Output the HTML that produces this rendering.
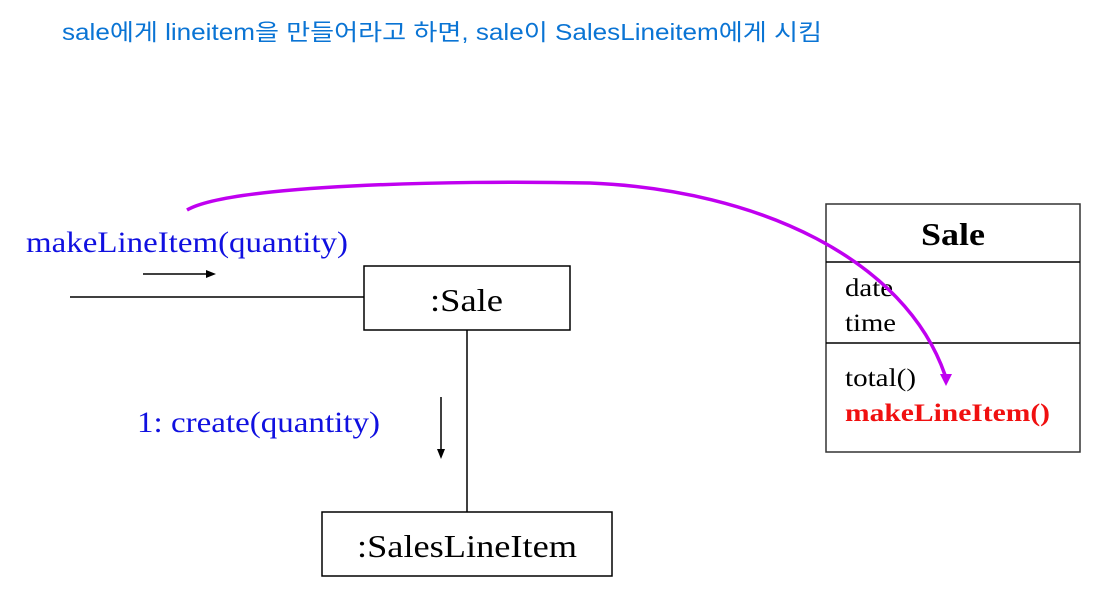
<!DOCTYPE html>
<html><head><meta charset="utf-8"><style>
html,body{margin:0;padding:0;background:#fff;}
</style></head><body>
<svg width="1098" height="591" xmlns="http://www.w3.org/2000/svg">
<text x="62" y="40" font-family="Liberation Sans, Noto Sans CJK KR, sans-serif" font-size="23" fill="#0a74d4" textLength="760" lengthAdjust="spacingAndGlyphs">sale에게 lineitem을 만들어라고 하면, sale이 SalesLineitem에게 시킴</text>
<g font-family="Liberation Serif, serif">
<text x="26" y="252" font-size="30" fill="#1010e0" textLength="322" lengthAdjust="spacingAndGlyphs">makeLineItem(quantity)</text>
<line x1="143" y1="274" x2="208" y2="274" stroke="#000" stroke-width="1.5"/>
<polygon points="216,274 206,270 206,278" fill="#000"/>
<line x1="70" y1="297" x2="364" y2="297" stroke="#000" stroke-width="1.5"/>
<rect x="364" y="266" width="206" height="64" fill="#fff" stroke="#000" stroke-width="1.5"/>
<text x="430" y="311" font-size="32" textLength="73" lengthAdjust="spacingAndGlyphs">:Sale</text>
<line x1="467" y1="330" x2="467" y2="512" stroke="#000" stroke-width="1.5"/>
<text x="137" y="432" font-size="30" fill="#1010e0" textLength="243" lengthAdjust="spacingAndGlyphs">1: create(quantity)</text>
<line x1="441" y1="397" x2="441" y2="450" stroke="#000" stroke-width="1.5"/>
<polygon points="441,459 437,449 445,449" fill="#000"/>
<rect x="322" y="512" width="290" height="64" fill="#fff" stroke="#000" stroke-width="1.5"/>
<text x="357" y="557" font-size="32" textLength="220" lengthAdjust="spacingAndGlyphs">:SalesLineItem</text>
<rect x="826" y="204" width="254" height="248" fill="#fff" stroke="#333" stroke-width="1.5"/>
<line x1="826" y1="262" x2="1080" y2="262" stroke="#000" stroke-width="1.5"/>
<line x1="826" y1="343" x2="1080" y2="343" stroke="#000" stroke-width="1.5"/>
<text x="921" y="245" font-size="32" font-weight="bold" textLength="64" lengthAdjust="spacingAndGlyphs">Sale</text>
<text x="845" y="296" font-size="25" textLength="48" lengthAdjust="spacingAndGlyphs">date</text>
<text x="845" y="331" font-size="25" textLength="51" lengthAdjust="spacingAndGlyphs">time</text>
<text x="845" y="386" font-size="25" textLength="71" lengthAdjust="spacingAndGlyphs">total()</text>
<text x="845" y="421" font-size="25" font-weight="bold" fill="#f01010" textLength="205" lengthAdjust="spacingAndGlyphs">makeLineItem()</text>
</g>
<path d="M187,210 C230,185 450,180 590,183 C760,190 905,260 945,375" fill="none" stroke="#c000f0" stroke-width="3.5"/>
<polygon points="946,386 940,374 952,374" fill="#c000f0"/>
</svg>
</body></html>
